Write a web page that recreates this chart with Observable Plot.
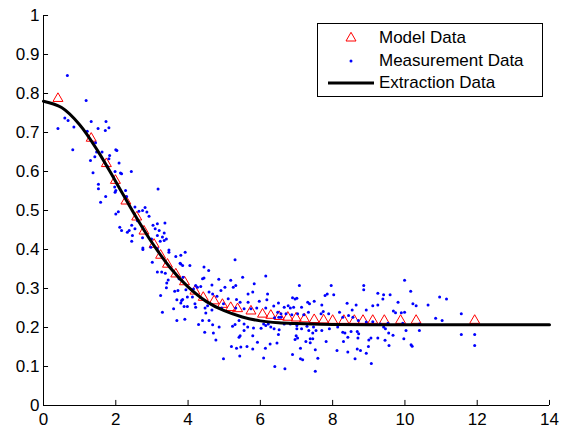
<!DOCTYPE html>
<html><head><meta charset="utf-8">
<script src="https://cdn.jsdelivr.net/npm/d3@7"></script>
<script src="https://cdn.jsdelivr.net/npm/@observablehq/plot@0.6"></script>
<style>
body{margin:0;background:#fff;}
#wrap{position:relative;width:564px;height:429px;font-family:"Liberation Sans",Arial,sans-serif;}
#legend{position:absolute;left:317px;top:23px;width:226px;height:74px;border:1px solid #000;background:#fff;box-sizing:border-box;}
.row{position:absolute;left:0;height:22px;width:100%;font-size:17px;line-height:22px;color:#000;white-space:nowrap;}
.row svg{position:absolute;left:0;top:0;}
.row span{position:absolute;left:61px;top:0;}
</style></head>
<body><div id="wrap"><div id="legend"></div></div>
<script>
const seriesNames = ["Model Data", "Measurement Data", "Extraction Data"];
const xTicks = [0, 2, 4, 6, 8, 10, 12, 14];
const yTicks = [0, 0.1, 0.2, 0.3, 0.4, 0.5, 0.6, 0.7, 0.8, 0.9, 1];

const modelData = [
  [0.40,0.787],[1.32,0.685],[1.74,0.620],[1.99,0.577],[2.28,0.524],[2.58,0.483],[2.78,0.447],
  [3.06,0.413],[3.24,0.385],[3.43,0.362],[3.66,0.337],[3.90,0.317],[4.19,0.293],[4.42,0.277],
  [4.72,0.268],[4.95,0.259],[5.18,0.251],[5.37,0.248],[5.74,0.242],[6.06,0.234],[6.29,0.231],
  [6.52,0.228],[6.76,0.226],[6.99,0.224],[7.22,0.222],[7.49,0.220],[7.75,0.219],[8.00,0.218],
  [8.31,0.218],[8.60,0.218],[8.84,0.218],[9.11,0.218],[9.43,0.218],[9.88,0.218],[10.31,0.218],[11.93,0.218]
];

const measurementData = [
  [0.66,0.846],[1.18,0.782],[0.40,0.710],[0.59,0.737],[0.68,0.731],[0.84,0.714],[0.81,0.656],[1.32,0.728],
  [1.21,0.703],[1.51,0.710],[1.73,0.728],[1.71,0.705],[1.81,0.712],[1.44,0.674],[1.62,0.650],[1.42,0.638],
  [1.30,0.628],[1.83,0.641],[1.81,0.633],[2.00,0.656],[2.03,0.654],[2.09,0.622],[1.37,0.597],[1.77,0.613],
  [1.98,0.600],[2.13,0.596],[2.43,0.600],[1.52,0.567],[1.52,0.556],[1.72,0.536],[1.58,0.521],[1.97,0.560],
  [2.27,0.551],[2.30,0.536],[2.00,0.491],[2.07,0.497],[2.53,0.509],[2.64,0.498],[2.74,0.500],[2.81,0.508],
  [2.86,0.496],[2.92,0.485],[3.17,0.555],[2.16,0.594],[2.00,0.551],[1.47,0.650],[1.98,0.547],
  [2.11,0.457],[2.16,0.449],[2.32,0.444],[2.37,0.449],[2.44,0.462],[2.53,0.453],[2.46,0.436],[2.44,0.421],
  [2.60,0.474],[3.03,0.462],[3.15,0.466],[3.09,0.453],[3.36,0.468],[3.20,0.449],[3.34,0.442],[3.29,0.432],
  [3.40,0.427],[2.74,0.430],[2.75,0.404],[2.75,0.400],[2.97,0.406],[3.47,0.399],[3.47,0.393],[3.66,0.382],
  [3.92,0.393],[3.78,0.365],[3.85,0.359],[4.05,0.359],[4.44,0.355],[3.15,0.342],[3.27,0.342],[3.45,0.322],
  [3.41,0.314],[3.40,0.302],[3.24,0.282],[3.75,0.325],[3.86,0.329],[3.72,0.295],[3.94,0.297],[4.15,0.299],
  [4.26,0.303],[4.21,0.308],[4.35,0.305],[4.44,0.327],[3.69,0.271],[3.85,0.272],[3.98,0.278],[4.12,0.278],
  [3.80,0.263],[3.98,0.254],[4.19,0.261],[3.60,0.248],[4.21,0.252],[3.15,0.436],[3.34,0.423],[3.15,0.402],
  [3.23,0.421],[2.99,0.427],[3.80,0.385],[3.80,0.363],[4.57,0.346],[5.30,0.374],[3.01,0.367],[3.37,0.339],
  [3.63,0.293],[3.82,0.269],[3.89,0.254],[3.29,0.239],[3.69,0.218],[3.91,0.221],[4.40,0.325],[4.66,0.309],
  [4.85,0.324],[4.91,0.295],[5.02,0.303],[5.18,0.321],[5.25,0.303],[5.32,0.308],[5.51,0.329],[5.83,0.312],
  [6.15,0.332],[4.80,0.280],[4.68,0.286],[4.58,0.291],[4.54,0.256],[4.47,0.250],[4.49,0.237],[4.66,0.245],
  [4.98,0.261],[4.93,0.250],[5.11,0.274],[5.34,0.272],[5.44,0.265],[5.66,0.286],[5.79,0.291],[5.66,0.265],
  [5.97,0.267],[6.20,0.286],[6.50,0.263],[5.32,0.250],[5.55,0.248],[5.74,0.248],[5.90,0.250],[6.15,0.250],
  [6.18,0.271],[4.40,0.218],[4.58,0.218],[4.29,0.208],[4.68,0.207],[4.46,0.188],[4.70,0.186],[4.77,0.168],
  [4.86,0.201],[5.23,0.203],[5.30,0.208],[5.41,0.218],[5.55,0.209],[5.55,0.192],[5.44,0.179],[5.41,0.175],
  [5.65,0.201],[5.81,0.199],[5.79,0.179],[6.02,0.198],[6.15,0.205],[6.29,0.201],[6.38,0.197],[6.09,0.209],
  [6.22,0.209],[6.52,0.194],[6.50,0.182],[5.92,0.162],[5.20,0.151],[5.34,0.147],[5.46,0.150],[5.63,0.151],
  [5.79,0.145],[6.14,0.147],[6.27,0.158],[6.46,0.160],[5.43,0.127],[4.98,0.120],[6.09,0.122],[6.40,0.100],
  [7.08,0.308],[7.96,0.308],[8.86,0.308],[8.86,0.297],[7.79,0.282],[7.85,0.286],[8.03,0.284],[9.25,0.288],
  [6.89,0.276],[6.96,0.273],[7.01,0.275],[7.31,0.265],[7.36,0.261],[7.49,0.267],[6.37,0.255],[6.66,0.252],
  [6.77,0.256],[6.83,0.250],[6.92,0.252],[7.14,0.252],[7.70,0.258],[8.40,0.262],[8.65,0.258],[9.11,0.256],
  [9.25,0.258],[8.54,0.245],[8.93,0.245],[6.48,0.239],[6.57,0.235],[6.71,0.235],[6.87,0.233],[7.03,0.235],
  [7.20,0.233],[7.33,0.239],[7.68,0.235],[7.74,0.241],[7.89,0.235],[8.19,0.239],[8.28,0.226],[8.44,0.231],
  [8.56,0.226],[8.71,0.218],[8.93,0.214],[9.11,0.215],[6.39,0.225],[6.51,0.226],[6.57,0.226],[6.66,0.209],
  [6.83,0.209],[7.01,0.205],[7.01,0.197],[7.14,0.197],[7.29,0.203],[7.34,0.192],[7.47,0.201],[7.54,0.192],
  [7.45,0.186],[7.70,0.192],[7.91,0.197],[8.14,0.201],[8.28,0.188],[8.34,0.186],[8.51,0.190],[8.68,0.190],
  [8.72,0.184],[6.99,0.179],[6.96,0.169],[7.03,0.173],[7.26,0.164],[7.38,0.171],[7.38,0.161],[7.45,0.171],
  [7.82,0.164],[8.30,0.164],[8.42,0.175],[8.70,0.173],[9.00,0.168],[9.06,0.173],[9.25,0.173],[7.11,0.147],
  [7.52,0.143],[8.12,0.141],[8.42,0.137],[8.68,0.145],[8.77,0.141],[8.99,0.151],[6.89,0.131],[7.11,0.120],
  [7.17,0.117],[7.59,0.121],[8.62,0.120],[8.93,0.134],[9.07,0.108],[6.68,0.094],[7.52,0.088],
  [9.99,0.321],[10.16,0.293],[9.41,0.284],[9.59,0.284],[9.39,0.273],[9.81,0.265],[10.22,0.261],[10.31,0.256],
  [10.64,0.258],[10.96,0.278],[11.15,0.273],[9.68,0.242],[9.74,0.238],[9.90,0.238],[9.99,0.239],[11.56,0.235],
  [10.85,0.224],[11.03,0.218],[9.53,0.211],[9.41,0.201],[9.46,0.197],[9.32,0.209],[9.94,0.211],[10.40,0.209],
  [10.03,0.192],[10.40,0.192],[9.55,0.186],[9.67,0.180],[9.45,0.167],[9.97,0.171],[11.56,0.182],[11.93,0.182],
  [9.56,0.154],[10.17,0.156],[10.20,0.152],[11.93,0.154]
];

const extractionX = [0, 0.5, 1, 1.5, 2, 2.5, 3, 3.5, 4, 4.5, 5, 5.5, 6, 6.5, 7, 8, 9, 10, 12, 14];
const extractionY = [0.780, 0.764, 0.720, 0.653, 0.574, 0.493, 0.418, 0.354, 0.304, 0.267, 0.243, 0.227, 0.217, 0.212, 0.210, 0.208, 0.207, 0.207, 0.207, 0.207];
const extraction = extractionX.map((x, i) => ({x, y: extractionY[i]}));

const fmt = d => String(d);

const chart = Plot.plot({
  width: 564, height: 429,
  marginLeft: 43, marginRight: 15, marginTop: 15, marginBottom: 24,
  x: {domain: [0, 14]},
  y: {domain: [0, 1]},
  style: {fontFamily: '"Liberation Sans", Arial, sans-serif', fontSize: "17px", background: "white", color: "black", overflow: "visible"},
  marks: [
    Plot.dot(modelData, {x: d => d[0], y: d => d[1], symbol: "triangle", r: 3.7, stroke: "#ff0000", fill: "none", strokeWidth: 1}),
    Plot.dot(measurementData, {x: d => d[0], y: d => d[1], r: 1.5, fill: "#0000ff", stroke: null}),
    Plot.line(extraction, {x: "x", y: "y", stroke: "black", strokeWidth: 3, curve: "catmull-rom"}),
    Plot.ruleX([0], {stroke: "black"}),
    Plot.ruleY([0], {stroke: "black"}),
    Plot.ruleX(xTicks, {x: d => d, y1: 0, y2: 0.013, stroke: "black"}),
    Plot.ruleY(yTicks, {y: d => d, x1: 0, x2: 0.14, stroke: "black"}),
    Plot.axisX({ticks: xTicks, tickSize: 0, tickPadding: 7, tickFormat: fmt, label: null, fontSize: 17}),
    Plot.axisY({ticks: yTicks, tickSize: 0, tickPadding: 4, tickFormat: fmt, label: null, fontSize: 17})
  ]
});
const wrap = document.getElementById("wrap");
wrap.insertBefore(chart, wrap.firstChild);

// Legend
const legend = document.getElementById("legend");
const rowTops = [2.5, 26, 48];
const symbols = [
  '<svg width="60" height="22"><path d="M33,5.3L38,14L28,14Z" fill="none" stroke="#ff0000" stroke-width="1"/></svg>',
  '<svg width="60" height="22"><circle cx="33" cy="11" r="1.5" fill="#0000ff"/></svg>',
  '<svg width="60" height="22"><line x1="10" x2="56" y1="11" y2="11" stroke="black" stroke-width="3"/></svg>'
];
seriesNames.forEach((name, i) => {
  const row = document.createElement("div");
  row.className = "row";
  row.style.top = rowTops[i] + "px";
  row.innerHTML = symbols[i] + "<span>" + name + "</span>";
  legend.appendChild(row);
});
</script>
</body></html>
